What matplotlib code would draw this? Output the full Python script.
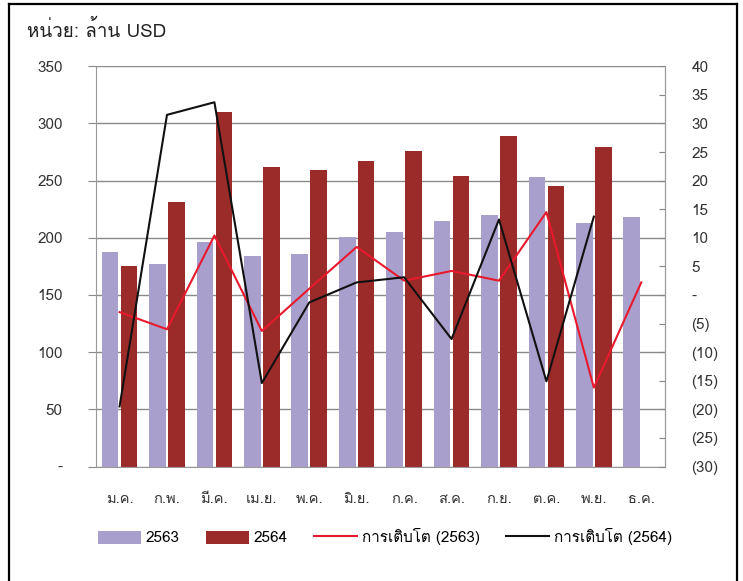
import matplotlib
matplotlib.use("Agg")
import matplotlib.pyplot as plt
import numpy as np
from matplotlib import font_manager
from matplotlib.lines import Line2D

# ---- data ----
months = ["ม.ค.", "ก.พ.", "มี.ค.", "เม.ย.", "พ.ค.", "มิ.ย.", "ก.ค.", "ส.ค.", "ก.ย.", "ต.ค.", "พ.ย.", "ธ.ค."]
val_2563 = [188, 177, 196, 184, 186, 201, 205, 215, 220, 253, 213, 218]
val_2564 = [175, 231, 310, 262, 259, 267, 276, 254, 289, 245, 279, np.nan]
growth_2563 = [-3.0, -6.0, 10.4, -6.3, 1.1, 8.4, 2.5, 4.2, 2.5, 14.5, -16.2, 2.2]
growth_2564 = [-19.5, 31.5, 33.7, -15.4, -1.3, 2.2, 3.1, -7.7, 13.2, -15.1, 13.7, np.nan]
left_ticks = [0, 50, 100, 150, 200, 250, 300, 350]
left_labels = ["-", "50", "100", "150", "200", "250", "300", "350"]
right_ticks = [-30, -25, -20, -15, -10, -5, 0, 5, 10, 15, 20, 25, 30, 35, 40]
right_labels = ["(30)", "(25)", "(20)", "(15)", "(10)", "(5)", "-", "5", "10", "15", "20", "25", "30", "35", "40"]
legend_labels = ["2563", "2564", "การเติบโต (2563)", "การเติบโต (2564)"]
title_text = "หน่วย: ล้าน USD"

# ---- font with Thai glyphs ----
thai_family = None
try:
    from fontTools.ttLib import TTFont
    for fe in font_manager.fontManager.ttflist:
        try:
            f = TTFont(fe.fname, fontNumber=0, lazy=True)
            cmap = f.getBestCmap()
            if cmap and 0x0E01 in cmap and 0x0E40 in cmap:
                thai_family = fe.name
                break
        except Exception:
            pass
except Exception:
    pass
fams = ([thai_family] if thai_family else []) + ["DejaVu Sans"]
plt.rcParams["font.family"] = fams

fig = plt.figure(figsize=(7.43, 5.81), dpi=100)
ax = fig.add_axes([0.129, 0.197, 0.766, 0.689])
x = np.arange(len(months))
w = 0.35
c1 = "#a99fcc"
c2 = "#9b2b29"
b1 = ax.bar(x - 0.2, val_2563, w, color=c1, zorder=2)
b2 = ax.bar(x + 0.2, val_2564, w, color=c2, zorder=2)
ax.set_ylim(0, 350)
ax.set_xlim(-0.5, 11.5)
ax.set_yticks(left_ticks)
ax.set_yticklabels(left_labels, fontsize=11, color="#333333")
ax.set_xticks(x)
ax.set_xticklabels(months, fontsize=10.5, color="#333333")
ax.tick_params(axis="x", length=0, pad=18)
ax.tick_params(axis="y", length=6, color="#888888", pad=18)
ax.grid(axis="y", color="#8a8a8a", linewidth=1.0, zorder=0)
ax.set_axisbelow(True)
ax.spines["top"].set_visible(False)
for s in ["left", "right", "bottom"]:
    ax.spines[s].set_color("#999999")

ax2 = ax.twinx()
ax2.set_ylim(-30, 40)
l1, = ax2.plot(x, growth_2563, color="#e8192c", linewidth=1.5, zorder=3)
l2, = ax2.plot(x, growth_2564, color="#111111", linewidth=1.5, zorder=3)
ax2.set_yticks(right_ticks)
ax2.set_yticklabels(right_labels, fontsize=11, color="#333333")
ax2.tick_params(axis="y", length=4, color="#888888", direction="in", pad=19)
ax2.spines["top"].set_visible(False)
ax2.spines["right"].set_color("#999999")
ax2.spines["left"].set_visible(False)
ax2.spines["bottom"].set_visible(False)

fig.legend([b1, b2, l1, l2], legend_labels, loc="center", bbox_to_anchor=(0.518, 0.076),
           ncol=4, frameon=False, fontsize=11, handlelength=2.8, handleheight=0.95,
           columnspacing=1.75, handletextpad=0.3)

fig.text(0.036, 0.948, title_text, fontsize=13.5, ha="left", va="center", color="#222222")

# outer frame (left, top, right; bottom edge is cut off in the reference)
for xs, ys in [([0.012, 0.012], [-0.01, 0.993]),
               ([0.012, 0.992], [0.993, 0.993]),
               ([0.992, 0.992], [0.993, -0.01])]:
    fig.add_artist(Line2D(xs, ys, transform=fig.transFigure, color="black", linewidth=1.6))
fig.savefig("out.png", dpi=100)
